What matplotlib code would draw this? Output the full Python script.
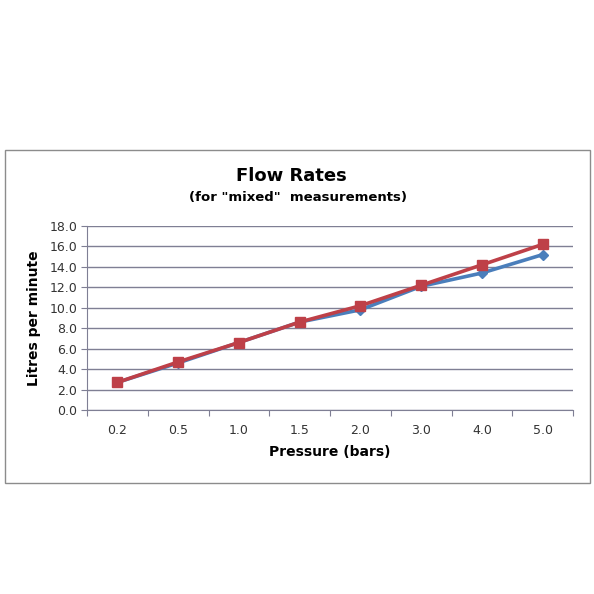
import matplotlib
matplotlib.use("Agg")
import matplotlib.pyplot as plt
from matplotlib.patches import Rectangle
import numpy as np

# data
pressure = ["0.2", "0.5", "1.0", "1.5", "2.0", "3.0", "4.0", "5.0"]
flow_blue = [2.7, 4.6, 6.6, 8.6, 9.8, 12.1, 13.4, 15.2]
flow_red = [2.7, 4.7, 6.6, 8.6, 10.2, 12.2, 14.2, 16.2]
y_ticks = [0, 2, 4, 6, 8, 10, 12, 14, 16, 18]

W, H = 594, 594
fig = plt.figure(figsize=(W / 100, H / 100), dpi=100)
fig.patch.set_facecolor("white")

# outer chart border
fig.add_artist(Rectangle((5 / W, 1 - 483 / H), 585 / W, 333 / H,
                         transform=fig.transFigure, fill=False,
                         edgecolor="#8c8c8c", linewidth=1))

ax = fig.add_axes([87 / W, 1 - 410 / H, 486 / W, 184 / H])
x = np.arange(len(pressure))

ax.plot(x, flow_blue, color="#4a7ebb", linewidth=2.6, marker="D",
        markersize=5, zorder=3)
ax.plot(x, flow_red, color="#be4048", linewidth=2.6, marker="s",
        markersize=7, zorder=4)

ax.set_xlim(-0.5, len(pressure) - 0.5)
ax.set_ylim(0, 18)
ax.set_yticks(y_ticks)
ax.set_yticklabels([f"{v:.1f}" for v in y_ticks], fontsize=9, color="#333333")
ax.grid(axis="y", color="#7f7f94", linewidth=1)
ax.set_axisbelow(True)

# category boundaries get tick marks, labels sit at the centres
ax.set_xticks(np.arange(-0.5, len(pressure)))
ax.set_xticklabels([])
ax.set_xticks(x, minor=True)
ax.set_xticklabels(pressure, minor=True, fontsize=9, color="#333333")
ax.tick_params(axis="x", which="minor", length=0, pad=10)
ax.tick_params(axis="x", which="major", length=4, color="#7f7f94")
ax.tick_params(axis="y", length=4, color="#7f7f94", pad=3)

for side in ["top", "right"]:
    ax.spines[side].set_visible(False)
for side in ["left", "bottom"]:
    ax.spines[side].set_color("#7f7f94")

ax.set_xlabel("Pressure (bars)", fontsize=10, fontweight="bold", labelpad=6)
ax.set_ylabel("Litres per minute", fontsize=10, fontweight="bold", labelpad=6)

fig.text(291 / W, 1 - 176 / H, "Flow Rates", ha="center", va="center",
         fontsize=13, fontweight="bold")
fig.text(298 / W, 1 - 198 / H, '(for "mixed"  measurements)', ha="center",
         va="center", fontsize=9.5, fontweight="bold")

fig.savefig("out.png", dpi=100)
